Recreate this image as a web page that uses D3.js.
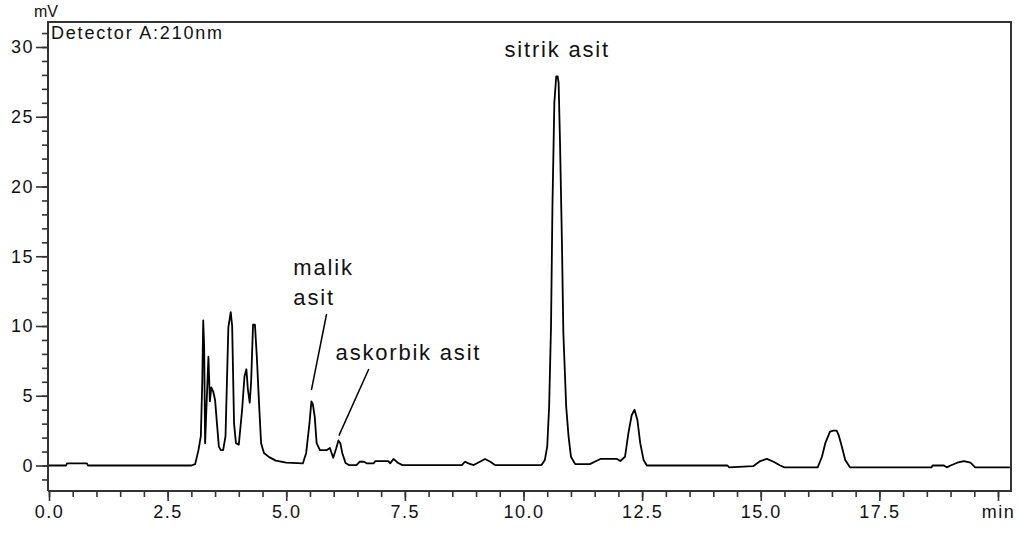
<!DOCTYPE html>
<html><head><meta charset="utf-8">
<script src="https://cdn.jsdelivr.net/npm/d3@7"></script>
<style>
html,body{margin:0;padding:0;background:#fff;}
svg{display:block;}
text{font-family:"Liberation Sans",Arial,sans-serif;fill:#111;}
</style></head>
<body>
<svg id="c" width="1018" height="533"></svg>
<script>
// retention time (min)
const timeMin = [
 0, 0.36, 0.38, 0.80, 0.82, 3.00, 3.08, 3.15, 3.20, 3.23,
 3.25, 3.27, 3.29, 3.32, 3.36, 3.39, 3.42, 3.46, 3.50, 3.54,
 3.58, 3.62, 3.67, 3.72, 3.78, 3.83, 3.86, 3.90, 3.94, 4.00,
 4.07, 4.12, 4.16, 4.19, 4.23, 4.26, 4.30, 4.34, 4.38, 4.43,
 4.47, 4.53, 4.64, 4.78, 5.00, 5.35, 5.42, 5.49, 5.53, 5.56,
 5.60, 5.64, 5.71, 5.85, 5.92, 5.99, 6.05, 6.10, 6.14, 6.18,
 6.25, 6.32, 6.48, 6.55, 6.64, 6.70, 6.84, 6.88, 7.15, 7.19,
 7.26, 7.35, 7.45, 8.70, 8.77, 8.84, 8.95, 9.08, 9.19, 9.30,
 9.40, 10.38, 10.45, 10.50, 10.54, 10.58, 10.61, 10.65, 10.69, 10.72,
 10.74, 10.77, 10.81, 10.84, 10.90, 10.95, 11.00, 11.09, 11.40, 11.50,
 11.62, 11.97, 12.04, 12.14, 12.21, 12.28, 12.34, 12.40, 12.46, 12.53,
 12.60, 14.30, 14.33, 14.84, 14.99, 15.13, 15.27, 15.41, 15.50, 16.20,
 16.29, 16.36, 16.46, 16.53, 16.60, 16.64, 16.71, 16.78, 16.88, 18.60,
 18.62, 18.86, 18.92, 19.00, 19.14, 19.28, 19.42, 19.52, 20.25
];
// detector signal (mV)
const signalMv = [
 0, 0, 0.15, 0.15, 0, 0, 0.1, 1.1, 2.1, 6.0,
 10.4, 8.5, 1.6, 4.3, 7.8, 4.6, 5.6, 5.3, 4.7, 3.0,
 1.35, 1.1, 1.1, 2.1, 9.9, 11.0, 10.0, 3.0, 1.6, 1.5,
 4.0, 6.4, 6.9, 5.5, 4.5, 6.0, 10.1, 10.1, 7.8, 4.2,
 1.6, 0.9, 0.6, 0.35, 0.2, 0.15, 0.9, 3.05, 4.6, 4.4,
 3.5, 1.6, 1.1, 1.1, 1.25, 0.55, 1.2, 1.8, 1.6, 0.9,
 0.18, 0.03, 0.03, 0.27, 0.27, 0.15, 0.15, 0.32, 0.32, 0.15,
 0.47, 0.2, 0.03, 0.03, 0.27, 0.15, 0.03, 0.27, 0.47, 0.27,
 0.03, 0.03, 0.4, 1.35, 4.2, 10.0, 18.6, 26.0, 27.9, 27.9,
 27.45, 23.1, 16.0, 9.5, 4.2, 2.07, 0.63, 0.1, 0.1, 0.27,
 0.47, 0.47, 0.32, 0.63, 2.3, 3.6, 4.0, 3.27, 1.6, 0.4,
 0, 0, -0.13, -0.05, 0.32, 0.47, 0.27, 0, -0.13, -0.13,
 0.63, 1.6, 2.43, 2.5, 2.5, 2.2, 1.35, 0.4, -0.13, -0.13,
 0, 0, -0.13, 0, 0.2, 0.32, 0.2, -0.13, -0.13
];
// axis ticks
const xMajorTicks = [0, 2.5, 5, 7.5, 10, 12.5, 15, 17.5, 20];
const xTickLabels = ["0.0", "2.5", "5.0", "7.5", "10.0", "12.5", "15.0", "17.5", "min"];
const yMajorTicks = [0, 5, 10, 15, 20, 25, 30];
// peak labels: text lines, text anchor (min, mV), leader line from/to (min, mV)
const peakNames = ["malik asit", "askorbik asit", "sitrik asit"];
const peakLines = [["malik", "asit"], ["askorbik asit"], ["sitrik asit"]];
const peakTextAt = [[5.15, 13.66], [6.04, 7.56], [9.6, 29.3]];
const peakLeader = [[[5.85, 10.86], [5.53, 5.4]], [[6.74, 6.92], [6.11, 2.14]], null];

const svg = d3.select("#c");
const L = 48, R = 1011, T = 22, B = 491;
const x = d3.scaleLinear().domain([0, 20]).range([49, 998]);
const y = d3.scaleLinear().domain([0, 30]).range([465.5, 47]);
const FF = '"Liberation Sans",Arial,sans-serif';

// frame
svg.append("path")
  .attr("d", `M${L},${B}H${R}V${T}H${L}V${B}`)
  .attr("fill", "none").attr("stroke", "#333").attr("stroke-width", 2);

// y axis
const yMinor = d3.range(-1, 32);
svg.append("g").attr("transform", `translate(${L},0)`)
  .call(d3.axisLeft(y).tickValues(yMinor).tickSize(6).tickFormat(""))
  .call(g => g.select(".domain").remove())
  .call(g => g.selectAll("line").attr("stroke", "#333").attr("stroke-width", 1.6));
svg.append("g").attr("transform", `translate(${L},0)`)
  .call(d3.axisLeft(y).tickValues(yMajorTicks).tickSize(12).tickPadding(2).tickFormat(d => d))
  .call(g => g.select(".domain").remove())
  .call(g => g.selectAll("line").attr("stroke", "#333").attr("stroke-width", 1.6))
  .call(g => g.selectAll("text").attr("font-size", 18).attr("letter-spacing", "1.5px")
    .attr("fill", "#111").style("font-family", FF));

// x axis
const xMinor = d3.range(0, 20.01, 0.5);
svg.append("g").attr("transform", `translate(0,${B})`)
  .call(d3.axisBottom(x).tickValues(xMinor).tickSize(6).tickFormat(""))
  .call(g => g.select(".domain").remove())
  .call(g => g.selectAll("line").attr("stroke", "#333").attr("stroke-width", 1.6));
svg.append("g").attr("transform", `translate(0,${B})`)
  .call(d3.axisBottom(x).tickValues(xMajorTicks).tickSize(10).tickPadding(4)
    .tickFormat((d, i) => xTickLabels[i]))
  .call(g => g.select(".domain").remove())
  .call(g => g.selectAll("line").attr("stroke", "#333").attr("stroke-width", 1.6))
  .call(g => g.selectAll("text").attr("font-size", 18).attr("letter-spacing", "1.5px")
    .attr("fill", "#111").style("font-family", FF));

// unit & detector labels
svg.append("text").attr("x", 34).attr("y", 17).attr("font-size", 16).text("mV");
svg.append("text").attr("x", 51).attr("y", 39).attr("font-size", 18).attr("letter-spacing", "1.8px").text("Detector A:210nm");

// trace
const pts = timeMin.map((t, i) => [t, signalMv[i]]);
svg.append("path").datum(pts)
  .attr("d", d3.line().x(d => x(d[0])).y(d => y(d[1])))
  .attr("fill", "none").attr("stroke", "#000").attr("stroke-width", 1.8)
  .attr("stroke-linejoin", "round");

// peak annotations
peakNames.forEach((name, i) => {
  const [tx, ty] = peakTextAt[i];
  const t = svg.append("text").attr("x", x(tx)).attr("y", y(ty))
    .attr("font-size", 22).attr("letter-spacing", "1.8px");
  peakLines[i].forEach((ln, j) => {
    t.append("tspan").attr("x", x(tx)).attr("dy", j === 0 ? 0 : 30).text(ln);
  });
  const ld = peakLeader[i];
  if (ld) {
    svg.append("line")
      .attr("x1", x(ld[0][0])).attr("y1", y(ld[0][1]))
      .attr("x2", x(ld[1][0])).attr("y2", y(ld[1][1]))
      .attr("stroke", "#000").attr("stroke-width", 1.5);
  }
});
</script>
</body></html>
